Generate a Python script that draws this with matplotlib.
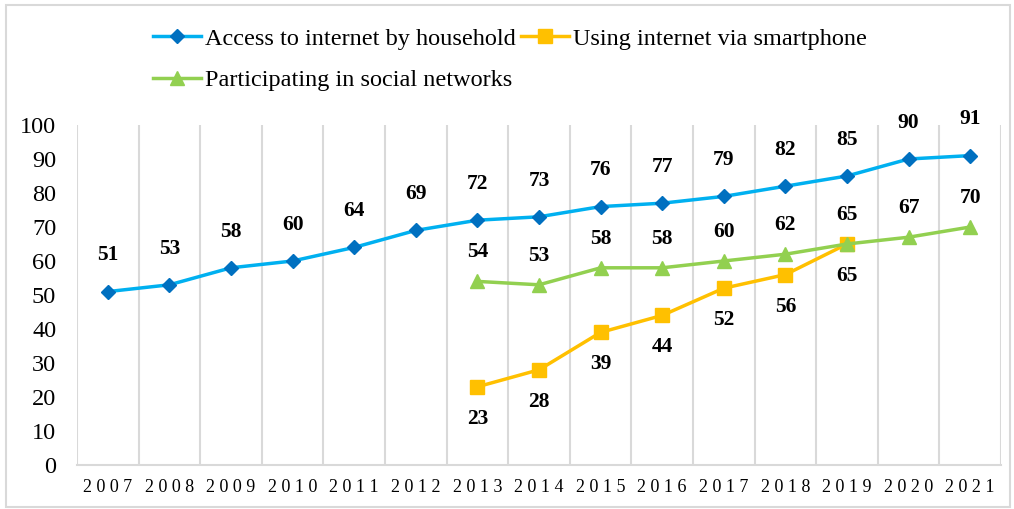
import matplotlib.pyplot as plt
from matplotlib.patches import Rectangle

years = [str(y) for y in range(2007, 2022)]
household = [51, 53, 58, 60, 64, 69, 72, 73, 76, 77, 79, 82, 85, 90, 91]
smartphone = [23, 28, 39, 44, 52, 56, 65]   # 2013-2019
social = [54, 53, 58, 58, 60, 62, 65, 67, 70]  # 2013-2021

plt.rcParams['font.family'] = ['Liberation Serif', 'DejaVu Serif']

fig = plt.figure(figsize=(10.14, 5.09), dpi=100)
ax = fig.add_axes([77 / 1014, 44 / 509, 924 / 1014, 340 / 509])

# outer frame
fig.patches.append(Rectangle((6 / 1014, 2 / 509), 1004 / 1014, 502 / 509,
                             transform=fig.transFigure, fill=False,
                             edgecolor='#d9d9d9', linewidth=1.5))

x_all = list(range(len(years)))
x_smart = x_all[6:6 + len(smartphone)]
x_social = x_all[6:6 + len(social)]

h1, = ax.plot(x_all, household, color='#00b0f0', lw=2.5, marker='D', ms=7.5,
              mfc='#0070c0', mec='#0070c0', label='Access to internet by household')
h2, = ax.plot(x_smart, smartphone, color='#ffc000', lw=2.5, marker='s', ms=10.5,
              mfc='#ffc000', mec='#ffc000', label='Using internet via smartphone')
h3, = ax.plot(x_social, social, color='#92d050', lw=2.5, marker='^', ms=10.5,
              mfc='#92d050', mec='#92d050', label='Participating in social networks')

lab = dict(ha='center', va='center', fontsize=15.5, fontweight='bold', color='black')
for x, v in zip(x_all, household):
    ax.annotate(str(v), (x, v), xytext=(0, 26), textcoords='offset points', **lab)
for x, v in zip(x_smart, smartphone):
    ax.annotate(str(v), (x, v), xytext=(0, -23), textcoords='offset points', **lab)
for x, v in zip(x_social, social):
    ax.annotate(str(v), (x, v), xytext=(0, 21), textcoords='offset points', **lab)

ax.set_xlim(-0.5, len(years) - 0.5)
ax.set_ylim(0, 100)
ax.set_yticks(range(0, 101, 10))
ax.set_xticks(x_all)
ax.set_xticklabels([' '.join(y) for y in years], fontsize=13)
ax.set_xticks([i - 0.5 for i in range(len(years) + 1)], minor=True)
ax.grid(True, which='minor', axis='x', color='#d9d9d9', lw=1.5)
ax.tick_params(axis='y', labelsize=17.5, length=0, pad=15)
ax.tick_params(axis='x', which='both', length=0, pad=10)
for s in ['top', 'left', 'right']:
    ax.spines[s].set_visible(False)
ax.spines['bottom'].set_color('#d9d9d9')
ax.spines['bottom'].set_linewidth(1.5)
ax.set_axisbelow(True)

fig.legend(handles=[h1, h3, h2], ncol=2, loc='upper left',
           bbox_to_anchor=(143 / 1014, 1 - 18 / 509), frameon=False,
           fontsize=17.5, handlelength=2.0, handletextpad=0.15,
           columnspacing=0.2, labelspacing=0.8, borderaxespad=0)

fig.savefig('out.png', dpi=100)
